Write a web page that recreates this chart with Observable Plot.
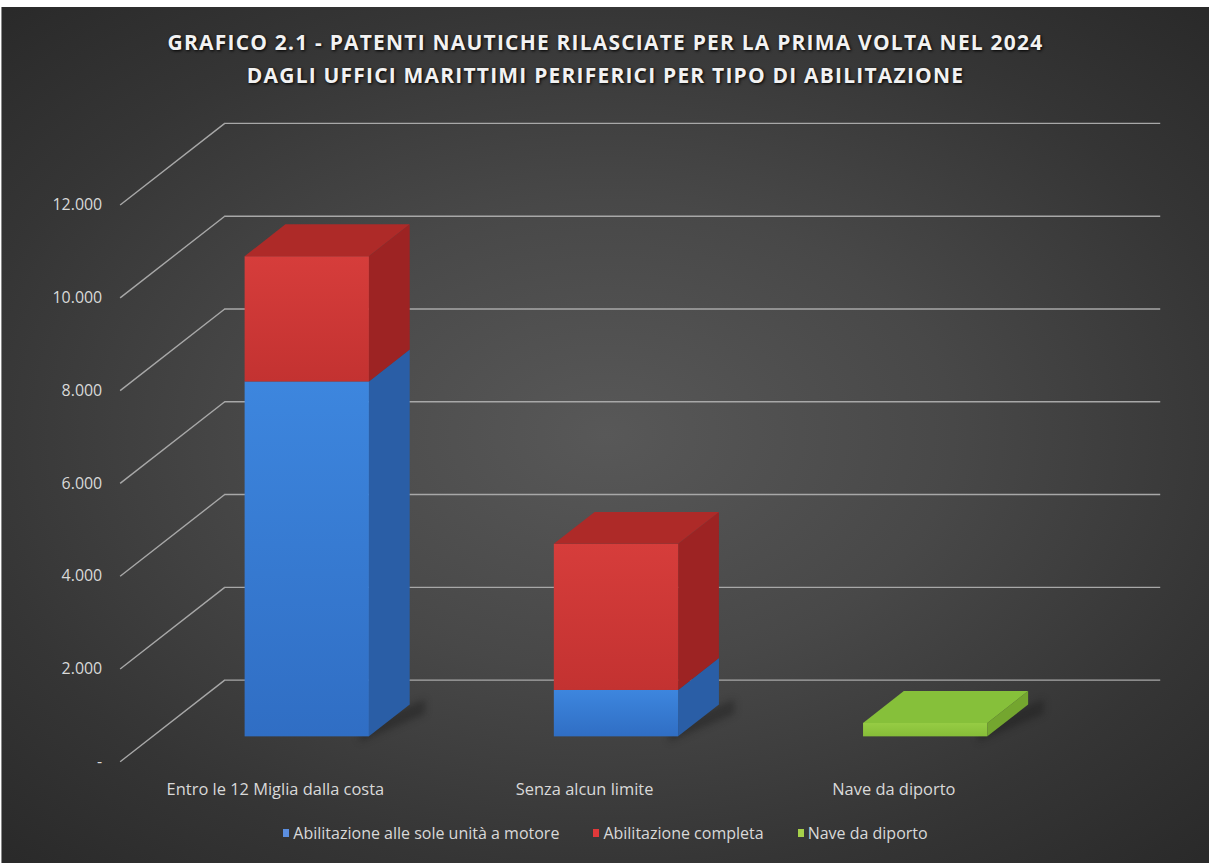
<!DOCTYPE html>
<html>
<head>
<meta charset="utf-8">
<script src="https://cdn.jsdelivr.net/npm/d3@7"></script>
<script src="https://cdn.jsdelivr.net/npm/@observablehq/plot@0.6"></script>
<style>
  html, body { margin: 0; padding: 0; background: #ffffff; }
  #frame {
    position: absolute; left: 1px; top: 7px; width: 1207px; height: 856px;
    border-left: 1px solid #8a8a8a;
    background: radial-gradient(ellipse 72% 68% at 50% 50%, #585858 0%, #484848 40%, #353535 75%, #2a2a2a 100%);
    overflow: hidden;
    font-family: "Open Sans", "Noto Sans", sans-serif;
  }
  #title {
    position: absolute; top: 19px; left: 0; width: 100%; text-align: center;
    color: #f2f2f2; font-weight: bold; font-size: 21px; line-height: 33px;
    letter-spacing: 1.2px; text-shadow: 1px 1px 3px #000;
  }
  #chart { position: absolute; left: -2px; top: 93px; }
  #legend {
    position: absolute; top: 815px; left: 0; width: 100%;
    display: flex; justify-content: center; gap: 34px;
    color: #d9d9d9; font-size: 16px;
  }
  #legend span.item { display: flex; align-items: center; }
  #legend i { display: inline-block; width: 6px; height: 8px; margin-right: 4px; }
</style>
</head>
<body>
<div id="frame">
  <div id="title">GRAFICO 2.1 - PATENTI NAUTICHE RILASCIATE PER LA PRIMA VOLTA NEL 2024<br>DAGLI UFFICI MARITTIMI PERIFERICI PER TIPO DI ABILITAZIONE</div>
  <div id="chart"></div>
  <div id="legend"></div>
</div>
<script>
// ---- data ----
const categories = ["Entro le 12 Miglia dalla costa", "Senza alcun limite", "Nave da diporto"];
const seriesNames = ["Abilitazione alle sole unità a motore", "Abilitazione completa", "Nave da diporto"];
const motore   = [7650, 1000, 0];
const completa = [2700, 3150, 0];
const nave     = [0, 0, 290];
const yTicks = [0, 2000, 4000, 6000, 8000, 10000, 12000];
const yTickLabels = ["-", "2.000", "4.000", "6.000", "8.000", "10.000", "12.000"];

// ---- styling ----
const frontColors = ["url(#gBlueF)", "url(#gRedF)", "url(#gGreenF)"];
const sideColors  = ["#2a5ea6", "#9d2323", "#74a62f"];
const topColors   = ["#3473c4", "#ae2a28", "#86c03a"];
const legendColors = ["#5b8ee0", "#e0393a", "#a6d04a"];

// oblique 3D geometry (in scale units)
const XD = 0.3382, YD = 1760;       // full depth shift
const DF = 0.305, DB = 0.695;       // bar front/back depth
const HW = 0.201;                   // half bar width
const WALL_L = -0.502, WALL_R = 2.525;

const seriesValues = [motore, completa, nave];
const segs = [];
categories.forEach((c, i) => {
  let acc = 0;
  seriesValues.forEach((vals, s) => {
    const v = vals[i];
    if (v > 0) { segs.push({cat: i, s, y0: acc, y1: acc + v, id: i + "-" + s}); acc += v; }
  });
});
const tops = categories.map((c, i) => segs.filter(d => d.cat === i).slice(-1)[0]).filter(Boolean);

const front = segs.map(d => ({s: d.s, x1: d.cat + DF*XD - HW, x2: d.cat + DF*XD + HW, y1: d.y0 + DF*YD, y2: d.y1 + DF*YD}));
const side = segs.flatMap(d => [
  {id: d.id, s: d.s, x: d.cat + DF*XD + HW, lo: d.y0 + DF*YD, hi: d.y1 + DF*YD},
  {id: d.id, s: d.s, x: d.cat + DB*XD + HW, lo: d.y0 + DB*YD, hi: d.y1 + DB*YD}
]);
const topFace = tops.flatMap(d => [
  {id: d.id, s: d.s, y: d.y1 + DF*YD, a: d.cat + DF*XD - HW, b: d.cat + DF*XD + HW},
  {id: d.id, s: d.s, y: d.y1 + DB*YD, a: d.cat + DB*XD - HW, b: d.cat + DB*XD + HW}
]);
const shadow = segs.filter(d => d.y0 === 0).flatMap(d => [
  {id: d.id, x: d.cat + DF*XD + HW - 0.03, lo: DF*YD - 120, hi: DF*YD + 200},
  {id: d.id, x: d.cat + DB*XD + HW + 0.05, lo: DB*YD - 200, hi: DB*YD + 120}
]);

const marks = [
  Plot.link(yTicks, {x1: WALL_L, y1: d => d, x2: WALL_L + XD, y2: d => d + YD, stroke: "#a8a8a8", strokeWidth: 1.4}),
  Plot.ruleY(yTicks, {y: d => d + YD, x1: WALL_L + XD, x2: WALL_R + XD, stroke: "#a8a8a8", strokeWidth: 1.4}),
  Plot.text(yTicks, {x: WALL_L, y: d => d, text: (d, i) => yTickLabels[i], textAnchor: "end", dx: -18, fill: "#d9d9d9", fontSize: 16}),
  Plot.text(categories, {x: (d, i) => i, y: 0, text: d => d, dy: 28, fill: "#d9d9d9", fontSize: 16.5}),
  Plot.areaY(shadow, {x: "x", y1: "lo", y2: "hi", z: "id", fill: "#111", fillOpacity: 0.35, curve: "linear"})
];
seriesNames.forEach((name, s) => {
  marks.push(Plot.areaY(side.filter(d => d.s === s), {x: "x", y1: "lo", y2: "hi", z: "id", fill: sideColors[s], curve: "linear"}));
  marks.push(Plot.rect(front.filter(d => d.s === s), {x1: "x1", x2: "x2", y1: "y1", y2: "y2", fill: frontColors[s]}));
});
seriesNames.forEach((name, s) => {
  marks.push(Plot.areaX(topFace.filter(d => d.s === s), {y: "y", x1: "a", x2: "b", z: "id", fill: topColors[s], curve: "linear"}));
});

const chart = Plot.plot({
  width: 1214, height: 715,
  marginLeft: 0, marginRight: 0, marginTop: 0, marginBottom: 0,
  x: {domain: [-0.8889, 3.0209], range: [0, 1214], axis: null},
  y: {domain: [0, 12000], range: [664, 105], axis: null},
  style: {background: "transparent", fontFamily: "'Open Sans', 'Noto Sans', sans-serif", color: "#d9d9d9"},
  marks
});

// gradients for the front faces
const defs = d3.select(chart).insert("defs", ":first-child");
function grad(id, top, bottom) {
  const g = defs.append("linearGradient").attr("id", id).attr("x1", 0).attr("y1", 0).attr("x2", 0).attr("y2", 1);
  g.append("stop").attr("offset", "0%").attr("stop-color", top);
  g.append("stop").attr("offset", "100%").attr("stop-color", bottom);
}
grad("gBlueF", "#3d86de", "#306ec4");
grad("gRedF", "#d63d3b", "#c33231");
grad("gGreenF", "#96cc44", "#86bd38");
d3.select(chart).selectAll("g[aria-label='area']").filter(function(d, i) { return i === 0; }).style("filter", "blur(4px)");

document.getElementById("chart").appendChild(chart);

const legend = document.getElementById("legend");
seriesNames.forEach((name, s) => {
  const item = document.createElement("span");
  item.className = "item";
  item.innerHTML = `<i style="background:${legendColors[s]}"></i>${name}`;
  legend.appendChild(item);
});
</script>
</body>
</html>
